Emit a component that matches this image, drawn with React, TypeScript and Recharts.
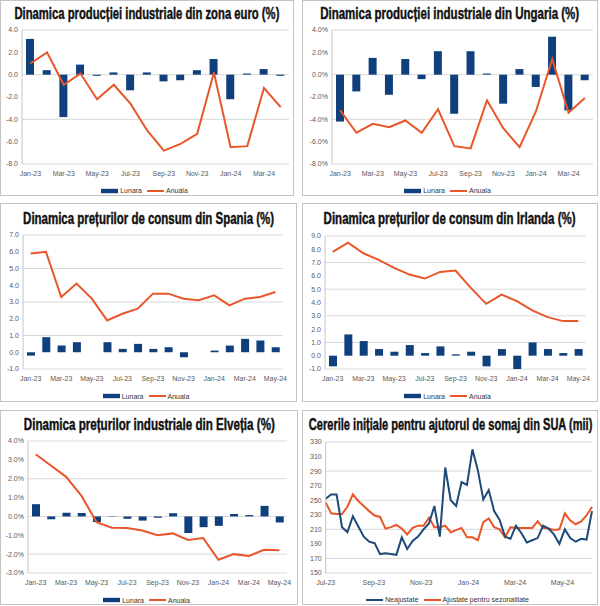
import React from "react";
import { ComposedChart, LineChart, Bar, Line, XAxis, YAxis, CartesianGrid } from "recharts";

// monthly categories
const months16 = ["Jan-23", "Feb-23", "Mar-23", "Apr-23", "May-23", "Jun-23", "Jul-23", "Aug-23", "Sep-23", "Oct-23", "Nov-23", "Dec-23", "Jan-24", "Feb-24", "Mar-24", "Apr-24"];
const months17 = ["Jan-23", "Feb-23", "Mar-23", "Apr-23", "May-23", "Jun-23", "Jul-23", "Aug-23", "Sep-23", "Oct-23", "Nov-23", "Dec-23", "Jan-24", "Feb-24", "Mar-24", "Apr-24", "May-24"];

// zona euro - productie industriala
const euroLunara = [3.2, 0.4, -3.8, 0.9, -0.1, 0.2, -1.4, 0.2, -0.6, -0.5, 0.4, 1.4, -2.2, 0.1, 0.5, -0.1];
const euroAnuala = [1.0, 2.0, -0.9, 0.1, -2.2, -0.9, -2.6, -5.0, -6.8, -6.2, -5.3, 0.2, -6.5, -6.4, -1.2, -2.9];

// Ungaria - productie industriala
const huLunara = [-4.2, -1.5, 1.5, -1.8, 1.4, -0.4, 2.1, -3.5, 2.1, 0.1, -2.6, 0.5, -1.1, 3.4, -3.2, -0.5];
const huAnuala = [-3.2, -5.2, -4.4, -4.7, -4.1, -5.2, -3.1, -6.4, -6.6, -2.3, -4.8, -6.5, -3.3, 1.4, -3.4, -2.1];

// Spania - preturi de consum
const esLunara = [-0.2, 0.9, 0.4, 0.6, 0.0, 0.6, 0.2, 0.5, 0.2, 0.3, -0.3, 0.0, 0.1, 0.4, 0.8, 0.7, 0.3];
const esAnuala = [5.9, 6.0, 3.3, 4.1, 3.2, 1.9, 2.3, 2.6, 3.5, 3.5, 3.2, 3.1, 3.4, 2.8, 3.2, 3.3, 3.6];

// Irlanda - preturi de consum
const ieLunara = [-0.8, 1.6, 1.1, 0.5, 0.3, 0.8, 0.2, 0.7, 0.1, 0.3, -0.8, 0.5, -1.0, 1.0, 0.5, 0.2, 0.5];
const ieAnuala = [7.8, 8.5, 7.7, 7.2, 6.6, 6.1, 5.8, 6.3, 6.4, 5.1, 3.9, 4.6, 4.1, 3.4, 2.9, 2.6, 2.6];

// Elvetia - preturi industriale
const chLunara = [0.65, -0.15, 0.2, 0.18, -0.3, -0.02, -0.12, -0.22, -0.07, 0.17, -0.88, -0.57, -0.5, 0.13, 0.07, 0.56, -0.32];
const chAnuala = [3.3, 2.7, 2.1, 1.1, -0.3, -0.6, -0.62, -0.75, -1.0, -0.9, -1.25, -1.15, -2.3, -2.0, -2.1, -1.77, -1.8];

// SUA - cereri initiale de somaj (mii), saptamanal
const sueWeeks = [
  "2023-07-01", "2023-07-08", "2023-07-15", "2023-07-22", "2023-07-29", "2023-08-05", "2023-08-12", "2023-08-19", "2023-08-26",
  "2023-09-02", "2023-09-09", "2023-09-16", "2023-09-23", "2023-09-30", "2023-10-07", "2023-10-14", "2023-10-21", "2023-10-28",
  "2023-11-04", "2023-11-11", "2023-11-18", "2023-11-25", "2023-12-02", "2023-12-09", "2023-12-16", "2023-12-23", "2023-12-30",
  "2024-01-06", "2024-01-13", "2024-01-20", "2024-01-27", "2024-02-03", "2024-02-10", "2024-02-17", "2024-02-24", "2024-03-02",
  "2024-03-09", "2024-03-16", "2024-03-23", "2024-03-30", "2024-04-06", "2024-04-13", "2024-04-20", "2024-04-27", "2024-05-04",
  "2024-05-11", "2024-05-18", "2024-05-25", "2024-06-01", "2024-06-08",
];
const sueNeajustate = [
  252, 258, 258, 213, 206, 228, 214, 200, 193, 191, 176, 177, 176, 175, 199, 183, 194, 200, 210, 218,
  242, 200, 295, 250, 242, 275, 271, 320, 291, 251, 264, 235, 223, 200, 197, 215, 205, 192, 195, 198,
  215, 211, 203, 190, 210, 198, 193, 197, 196, 235,
];
const sueAjustate = [
  247, 232, 231, 231, 241, 258, 249, 242, 235, 229, 227, 211, 213, 216, 211, 203, 212, 215, 215, 226,
  213, 213, 215, 206, 209, 212, 199, 199, 195, 220, 225, 213, 210, 199, 213, 212, 212, 212, 212, 221,
  212, 211, 209, 210, 232, 222, 217, 221, 229, 241,
];
const sueTickDates = ["2023-07-01", "2023-09-01", "2023-11-01", "2024-01-01", "2024-03-01", "2024-05-01"];
const sueTickLabels = ["Jul-23", "Sep-23", "Nov-23", "Jan-24", "Mar-24", "May-24"];

const ticksEuro = [-8, -6, -4, -2, 0, 2, 4];
const ticksEs = [-1, 0, 1, 2, 3, 4, 5, 6, 7];
const ticksIe = [-1, 0, 1, 2, 3, 4, 5, 6, 7, 8, 9];
const ticksCh = [-3, -2, -1, 0, 1, 2, 3, 4];
const ticksSue = [150, 170, 190, 210, 230, 250, 270, 290, 310, 330];

const NAVY = "#103f7e";
const ORANGE = "#e8562a";
const STEEL = "#1f4a78";
const GRID = "#d9d9d9";
const EDGE = "#c4c4c4";
const axisFont = "'Liberation Sans', Arial, sans-serif";
const titleFamily = "'Liberation Sans', Arial, sans-serif";
const TITLE_SIZE = 16.5;
const tickStyle = { fontSize: 7, fill: "#595959", fontFamily: axisFont };

type Box = { x: number; y: number; w: number; h: number };
type Plot = { l: number; r: number; t: number; b: number };

const measureText = (text: string, font: string) => {
  const ctx = document.createElement("canvas").getContext("2d");
  if (!ctx) return text.length * 7;
  ctx.font = font;
  return ctx.measureText(text).width;
};

const Frame = ({ f }: { f: Box }) => (
  <div
    style={{
      position: "absolute",
      left: f.x,
      top: f.y,
      width: f.w,
      height: f.h,
      border: `1px solid ${EDGE}`,
      boxSizing: "border-box",
      background: "#fff",
    }}
  />
);

// bold title squeezed horizontally to the condensed width of the original
const Title = ({ text, cx, width, baseline }: { text: string; cx: number; width: number; baseline: number }) => {
  const natural = measureText(text, `bold ${TITLE_SIZE}px ${titleFamily}`);
  const sx = width / natural;
  const lh = 22;
  const baseFromTop = (lh - 1.117 * TITLE_SIZE) / 2 + 0.905 * TITLE_SIZE;
  return (
    <div
      style={{
        position: "absolute",
        left: cx - natural / 2,
        top: baseline - baseFromTop,
        width: natural,
        height: lh,
        lineHeight: `${lh}px`,
        whiteSpace: "nowrap",
        fontFamily: titleFamily,
        fontWeight: "bold",
        fontSize: TITLE_SIZE,
        color: "#111",
        transform: `scaleX(${sx})`,
        transformOrigin: "center",
        WebkitTextStroke: "0.45px #111",
      }}
    >
      {text}
    </div>
  );
};

type LegendItem = { label: string; color: string; kind: "rect" | "line" };

const Legend = ({ f, y, items }: { f: Box; y: number; items: LegendItem[] }) => (
  <div
    style={{
      position: "absolute",
      left: f.x,
      top: y - 5,
      width: f.w,
      height: 10,
      display: "flex",
      justifyContent: "center",
      alignItems: "center",
      fontFamily: axisFont,
      fontSize: 7,
      color: "#333",
    }}
  >
    {items.map((it) => (
      <span key={it.label} style={{ display: "flex", alignItems: "center", marginRight: 5 }}>
        <svg width={17} height={6} style={{ marginRight: 2 }}>
          {it.kind === "rect" ? (
            <rect x={0} y={0.8} width={17} height={4.4} fill={it.color} />
          ) : (
            <line x1={0} x2={17} y1={3} y2={3} stroke={it.color} strokeWidth={2} />
          )}
        </svg>
        {it.label}
      </span>
    ))}
  </div>
);

type BarPanelCfg = {
  frame: Box;
  plot: Plot;
  title: string;
  titleW: number;
  titleBase: number;
  legendY: number;
  cats: string[];
  lunara: number[];
  anuala: number[];
  ticks: number[];
  pct: boolean;
};

const BarPanel = ({ cfg }: { cfg: BarPanelCfg }) => {
  const { frame, plot } = cfg;
  const chartH = plot.b - frame.y + 20;
  const data = cfg.cats.map((c, i) => ({ cat: c, lunara: cfg.lunara[i], anuala: cfg.anuala[i] }));
  const fmt = (v: number) => (cfg.pct ? `${v.toFixed(1)}%` : v.toFixed(1));
  return (
    <>
      <Frame f={frame} />
      <Title text={cfg.title} cx={frame.x + frame.w / 2} width={cfg.titleW} baseline={cfg.titleBase} />
      <div style={{ position: "absolute", left: frame.x, top: frame.y }}>
        <ComposedChart
          width={frame.w}
          height={chartH}
          data={data}
          margin={{ top: plot.t - frame.y, right: frame.x + frame.w - plot.r, bottom: 0, left: 0 }}
        >
          <CartesianGrid vertical={false} stroke={GRID} />
          <XAxis
            dataKey="cat"
            interval={1}
            height={20}
            tickLine={false}
            axisLine={false}
            tickSize={4}
            tickMargin={3}
            tick={tickStyle}
          />
          <YAxis
            domain={[cfg.ticks[0], cfg.ticks[cfg.ticks.length - 1]]}
            ticks={cfg.ticks}
            width={plot.l - frame.x}
            tickFormatter={fmt}
            tickLine={false}
            tickSize={2}
            tickMargin={2}
            axisLine={{ stroke: EDGE }}
            tick={tickStyle}
          />
          <YAxis yAxisId="edge" orientation="right" width={0} tick={false} tickLine={false} axisLine={{ stroke: EDGE }} />
          <Bar dataKey="lunara" fill={NAVY} barSize={8} isAnimationActive={false} />
          <Line type="linear" dataKey="anuala" stroke={ORANGE} strokeWidth={2} dot={false} isAnimationActive={false} />
        </ComposedChart>
      </div>
      <Legend
        f={frame}
        y={cfg.legendY}
        items={[
          { label: "Lunara", color: NAVY, kind: "rect" },
          { label: "Anuala", color: ORANGE, kind: "line" },
        ]}
      />
    </>
  );
};

const panels: BarPanelCfg[] = [
  {
    frame: { x: 0, y: 0, w: 294, h: 196 },
    plot: { l: 22, r: 289, t: 30, b: 164 },
    title: "Dinamica producției industriale din zona euro (%)",
    titleW: 265,
    titleBase: 18.5,
    legendY: 190.5,
    cats: months16,
    lunara: euroLunara,
    anuala: euroAnuala,
    ticks: ticksEuro,
    pct: false,
  },
  {
    frame: { x: 302, y: 0, w: 296, h: 196 },
    plot: { l: 332, r: 593, t: 30, b: 164 },
    title: "Dinamica producției industriale din Ungaria (%)",
    titleW: 259,
    titleBase: 18.5,
    legendY: 190.5,
    cats: months16,
    lunara: huLunara,
    anuala: huAnuala,
    ticks: ticksEuro,
    pct: true,
  },
  {
    frame: { x: 0, y: 203, w: 297, h: 199 },
    plot: { l: 23, r: 283, t: 235, b: 369 },
    title: "Dinamica prețurilor de consum din Spania (%)",
    titleW: 251,
    titleBase: 224,
    legendY: 396,
    cats: months17,
    lunara: esLunara,
    anuala: esAnuala,
    ticks: ticksEs,
    pct: false,
  },
  {
    frame: { x: 302, y: 203, w: 296, h: 199 },
    plot: { l: 325, r: 586, t: 236, b: 369 },
    title: "Dinamica prețurilor de consum din Irlanda (%)",
    titleW: 252,
    titleBase: 224,
    legendY: 396,
    cats: months17,
    lunara: ieLunara,
    anuala: ieAnuala,
    ticks: ticksIe,
    pct: false,
  },
  {
    frame: { x: 0, y: 410, w: 298, h: 195 },
    plot: { l: 28, r: 287, t: 441, b: 573 },
    title: "Dinamica prețurilor industriale din Elveția (%)",
    titleW: 251,
    titleBase: 429.5,
    legendY: 600,
    cats: months17,
    lunara: chLunara,
    anuala: chAnuala,
    ticks: ticksCh,
    pct: true,
  },
];

const dayOf = (s: string) => Date.parse(s) / 86400000;

const SuaPanel = () => {
  const frame: Box = { x: 302, y: 410, w: 296, h: 195 };
  const plot: Plot = { l: 325.7, r: 592, t: 442, b: 573 };
  const chartH = plot.b - frame.y + 20;
  const data = sueWeeks.map((w, i) => ({ t: dayOf(w), neaj: sueNeajustate[i], aj: sueAjustate[i] }));
  const tickVals = sueTickDates.map(dayOf);
  const fmtX = (v: number) => {
    const i = tickVals.indexOf(v);
    return i >= 0 ? sueTickLabels[i] : "";
  };
  return (
    <>
      <Frame f={frame} />
      <Title text="Cererile inițiale pentru ajutorul de somaj din SUA (mii)" cx={451} width={284} baseline={429.5} />
      <div style={{ position: "absolute", left: frame.x, top: frame.y }}>
        <LineChart
          width={frame.w}
          height={chartH}
          data={data}
          margin={{ top: plot.t - frame.y, right: frame.x + frame.w - plot.r, bottom: 0, left: 0 }}
        >
          <CartesianGrid vertical={false} stroke={GRID} />
          <XAxis
            dataKey="t"
            type="number"
            domain={["dataMin", "dataMax"]}
            ticks={tickVals}
            tickFormatter={fmtX}
            height={20}
            tickLine={false}
            axisLine={false}
            tickSize={4}
            tickMargin={3}
            tick={tickStyle}
          />
          <YAxis
            domain={[ticksSue[0], ticksSue[ticksSue.length - 1]]}
            ticks={ticksSue}
            width={plot.l - frame.x}
            tickLine={false}
            tickSize={2}
            tickMargin={2}
            axisLine={{ stroke: EDGE }}
            tick={tickStyle}
          />
          <YAxis yAxisId="edge" orientation="right" width={0} tick={false} tickLine={false} axisLine={{ stroke: EDGE }} />
          <Line type="linear" dataKey="aj" stroke={ORANGE} strokeWidth={2} dot={false} isAnimationActive={false} />
          <Line type="linear" dataKey="neaj" stroke={STEEL} strokeWidth={2} dot={false} isAnimationActive={false} />
        </LineChart>
      </div>
      <Legend
        f={frame}
        y={599.5}
        items={[
          { label: "Neajustate", color: STEEL, kind: "line" },
          { label: "Ajustate pentru sezonalitate", color: ORANGE, kind: "line" },
        ]}
      />
    </>
  );
};

const App = () => (
  <div style={{ position: "absolute", left: 0, top: 0, width: 600, height: 606, background: "#fff", overflow: "hidden" }}>
    {panels.map((p) => (
      <BarPanel key={p.title} cfg={p} />
    ))}
    <SuaPanel />
  </div>
);

export default App;
